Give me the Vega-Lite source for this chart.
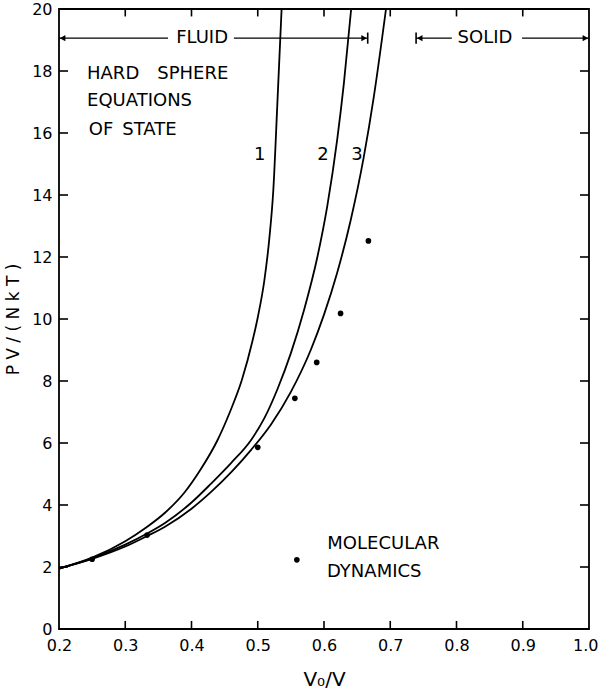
{
  "$schema": "https://vega.github.io/schema/vega-lite/v6.json",
  "autosize": {"type": "none"},
  "padding": {"left": 59, "top": 9, "right": 9, "bottom": 69},
  "width": 530,
  "height": 620,
  "background": "white",
  "config": {
    "view": {"stroke": "black", "strokeWidth": 1.8},
    "font": "DejaVu Sans",
    "axis": {
      "domain": false,
      "ticks": false,
      "grid": false,
      "labelColor": "black",
      "labelFont": "DejaVu Sans",
      "labelFontSize": 16,
      "labelFlush": false,
      "titleFont": "DejaVu Sans",
      "titleFontWeight": "normal",
      "titleColor": "black"
    }
  },
  "datasets": {
    "curves": [
      {"curve": "1", "x": 0.2, "y": 1.95}, {"curve": "1", "x": 0.25, "y": 2.3}, {"curve": "1", "x": 0.3, "y": 2.83},
      {"curve": "1", "x": 0.33, "y": 3.25}, {"curve": "1", "x": 0.36, "y": 3.75}, {"curve": "1", "x": 0.39, "y": 4.42},
      {"curve": "1", "x": 0.413, "y": 5.12}, {"curve": "1", "x": 0.439, "y": 6.08}, {"curve": "1", "x": 0.458, "y": 7.0},
      {"curve": "1", "x": 0.476, "y": 8.03}, {"curve": "1", "x": 0.4924, "y": 9.32}, {"curve": "1", "x": 0.5, "y": 10.05},
      {"curve": "1", "x": 0.51, "y": 11.25}, {"curve": "1", "x": 0.5175, "y": 12.6}, {"curve": "1", "x": 0.5235, "y": 14.16},
      {"curve": "1", "x": 0.5295, "y": 16.9}, {"curve": "1", "x": 0.536, "y": 20},
      {"curve": "2", "x": 0.2, "y": 1.95}, {"curve": "2", "x": 0.25, "y": 2.28}, {"curve": "2", "x": 0.3, "y": 2.72},
      {"curve": "2", "x": 0.333, "y": 3.08}, {"curve": "2", "x": 0.36, "y": 3.42}, {"curve": "2", "x": 0.4, "y": 4.08},
      {"curve": "2", "x": 0.43, "y": 4.7}, {"curve": "2", "x": 0.46, "y": 5.36}, {"curve": "2", "x": 0.49, "y": 6.1},
      {"curve": "2", "x": 0.51, "y": 6.8}, {"curve": "2", "x": 0.53, "y": 7.75}, {"curve": "2", "x": 0.55, "y": 8.9},
      {"curve": "2", "x": 0.57, "y": 10.3}, {"curve": "2", "x": 0.59, "y": 12.0}, {"curve": "2", "x": 0.605, "y": 13.65},
      {"curve": "2", "x": 0.62, "y": 15.8}, {"curve": "2", "x": 0.63, "y": 17.6}, {"curve": "2", "x": 0.641, "y": 20},
      {"curve": "3", "x": 0.2, "y": 1.95}, {"curve": "3", "x": 0.25, "y": 2.26}, {"curve": "3", "x": 0.3, "y": 2.66},
      {"curve": "3", "x": 0.333, "y": 3.0}, {"curve": "3", "x": 0.36, "y": 3.3}, {"curve": "3", "x": 0.4, "y": 3.88},
      {"curve": "3", "x": 0.43, "y": 4.43}, {"curve": "3", "x": 0.46, "y": 5.06}, {"curve": "3", "x": 0.49, "y": 5.78},
      {"curve": "3", "x": 0.52, "y": 6.6}, {"curve": "3", "x": 0.55, "y": 7.65}, {"curve": "3", "x": 0.58, "y": 9.0},
      {"curve": "3", "x": 0.6, "y": 10.14}, {"curve": "3", "x": 0.62, "y": 11.5}, {"curve": "3", "x": 0.64, "y": 13.16},
      {"curve": "3", "x": 0.66, "y": 15.22}, {"curve": "3", "x": 0.675, "y": 17.14}, {"curve": "3", "x": 0.6936, "y": 20}
    ],
    "md": [
      {"x": 0.25, "y": 2.25}, {"x": 0.333, "y": 3.03}, {"x": 0.5, "y": 5.86}, {"x": 0.556, "y": 7.44},
      {"x": 0.589, "y": 8.6}, {"x": 0.625, "y": 10.18}, {"x": 0.667, "y": 12.52}, {"x": 0.559, "y": 2.23}
    ],
    "ticks": [
      {"x": 0.3, "x2": 0.3, "y": 0, "y2": 0.26}, {"x": 0.4, "x2": 0.4, "y": 0, "y2": 0.26},
      {"x": 0.5, "x2": 0.5, "y": 0, "y2": 0.26}, {"x": 0.6, "x2": 0.6, "y": 0, "y2": 0.26},
      {"x": 0.7, "x2": 0.7, "y": 0, "y2": 0.26}, {"x": 0.8, "x2": 0.8, "y": 0, "y2": 0.26},
      {"x": 0.9, "x2": 0.9, "y": 0, "y2": 0.26},
      {"x": 0.3, "x2": 0.3, "y": 20, "y2": 19.76}, {"x": 0.4, "x2": 0.4, "y": 20, "y2": 19.76},
      {"x": 0.5, "x2": 0.5, "y": 20, "y2": 19.76}, {"x": 0.6, "x2": 0.6, "y": 20, "y2": 19.76},
      {"x": 0.7, "x2": 0.7, "y": 20, "y2": 19.76}, {"x": 0.8, "x2": 0.8, "y": 20, "y2": 19.76},
      {"x": 0.9, "x2": 0.9, "y": 20, "y2": 19.76},
      {"x": 0.2, "x2": 0.2136, "y": 2, "y2": 2}, {"x": 0.2, "x2": 0.2136, "y": 4, "y2": 4},
      {"x": 0.2, "x2": 0.2136, "y": 6, "y2": 6}, {"x": 0.2, "x2": 0.2136, "y": 8, "y2": 8},
      {"x": 0.2, "x2": 0.2136, "y": 10, "y2": 10}, {"x": 0.2, "x2": 0.2136, "y": 12, "y2": 12},
      {"x": 0.2, "x2": 0.2136, "y": 14, "y2": 14}, {"x": 0.2, "x2": 0.2136, "y": 16, "y2": 16},
      {"x": 0.2, "x2": 0.2136, "y": 18, "y2": 18},
      {"x": 1.0, "x2": 0.9864, "y": 2, "y2": 2}, {"x": 1.0, "x2": 0.9864, "y": 4, "y2": 4},
      {"x": 1.0, "x2": 0.9864, "y": 6, "y2": 6}, {"x": 1.0, "x2": 0.9864, "y": 8, "y2": 8},
      {"x": 1.0, "x2": 0.9864, "y": 10, "y2": 10}, {"x": 1.0, "x2": 0.9864, "y": 12, "y2": 12},
      {"x": 1.0, "x2": 0.9864, "y": 14, "y2": 14}, {"x": 1.0, "x2": 0.9864, "y": 16, "y2": 16},
      {"x": 1.0, "x2": 0.9864, "y": 18, "y2": 18}
    ],
    "labelsLeft": [
      {"x": 0.2423, "y": 17.9, "t": "HARD\u2003SPHERE"},
      {"x": 0.2423, "y": 17.03, "t": "EQUATIONS"},
      {"x": 0.245, "y": 16.1, "t": "OF\u2002STATE"},
      {"x": 0.605, "y": 2.74, "t": "MOLECULAR"},
      {"x": 0.6045, "y": 1.84, "t": "DYNAMICS"}
    ],
    "labelsCenter": [
      {"x": 0.503, "y": 15.29, "t": "1"},
      {"x": 0.5985, "y": 15.29, "t": "2"},
      {"x": 0.6498, "y": 15.29, "t": "3"},
      {"x": 0.416, "y": 19.06, "t": "FLUID"},
      {"x": 0.843, "y": 19.06, "t": "SOLID"}
    ],
    "arrows": [
      {"x": 0.2, "x2": 0.3645, "y": 19.06},
      {"x": 0.464, "x2": 0.666, "y": 19.06},
      {"x": 0.739, "x2": 0.793, "y": 19.06},
      {"x": 0.899, "x2": 1.0, "y": 19.06}
    ],
    "bars": [
      {"x": 0.666, "y": 18.88, "y2": 19.24},
      {"x": 0.739, "y": 18.88, "y2": 19.24}
    ],
    "headsLeft": [
      {"x": 0.2055, "y": 19.06},
      {"x": 0.7445, "y": 19.06}
    ],
    "headsRight": [
      {"x": 0.6605, "y": 19.06},
      {"x": 0.9945, "y": 19.06}
    ]
  },
  "layer": [
    {
      "data": {"name": "curves"},
      "mark": {"type": "line", "color": "black", "strokeWidth": 1.8, "interpolate": "monotone", "clip": true},
      "encoding": {
        "x": {
          "field": "x", "type": "quantitative",
          "scale": {"domain": [0.2, 1.0], "nice": false, "zero": false},
          "axis": {
            "orient": "bottom", "values": [0.2, 0.3, 0.4, 0.5, 0.6, 0.7, 0.8, 0.9, 1.0], "format": ".1f", "labelPadding": 8,
            "labelAlign": {"expr": "datum.value >= 1 ? 'right' : 'center'"},
            "labelOffset": {"expr": "datum.value >= 1 ? 9 : 0"},
            "title": "V₀/V", "titleFontSize": 20, "titlePadding": 16
          }
        },
        "y": {
          "field": "y", "type": "quantitative",
          "scale": {"domain": [0, 20], "nice": false},
          "axis": {"orient": "left", "values": [0, 2, 4, 6, 8, 10, 12, 14, 16, 18, 20], "labelPadding": 7, "title": "P V / ( N k T )", "titleFontSize": 17, "titlePadding": 9}
        },
        "detail": {"field": "curve"}
      }
    },
    {
      "data": {"name": "ticks"},
      "mark": {"type": "rule", "color": "black", "strokeWidth": 1.6},
      "encoding": {
        "x": {"field": "x", "type": "quantitative"},
        "x2": {"field": "x2"},
        "y": {"field": "y", "type": "quantitative"},
        "y2": {"field": "y2"}
      }
    },
    {
      "data": {"name": "md"},
      "mark": {"type": "point", "filled": true, "color": "black", "size": 32, "opacity": 1},
      "encoding": {
        "x": {"field": "x", "type": "quantitative"},
        "y": {"field": "y", "type": "quantitative"}
      }
    },
    {
      "data": {"name": "arrows"},
      "mark": {"type": "rule", "color": "black", "strokeWidth": 1.4},
      "encoding": {
        "x": {"field": "x", "type": "quantitative"},
        "x2": {"field": "x2"},
        "y": {"field": "y", "type": "quantitative"}
      }
    },
    {
      "data": {"name": "bars"},
      "mark": {"type": "rule", "color": "black", "strokeWidth": 1.6},
      "encoding": {
        "x": {"field": "x", "type": "quantitative"},
        "y": {"field": "y", "type": "quantitative"},
        "y2": {"field": "y2"}
      }
    },
    {
      "data": {"name": "headsLeft"},
      "mark": {"type": "point", "shape": "triangle-left", "filled": true, "color": "black", "size": 40, "opacity": 1},
      "encoding": {
        "x": {"field": "x", "type": "quantitative"},
        "y": {"field": "y", "type": "quantitative"}
      }
    },
    {
      "data": {"name": "headsRight"},
      "mark": {"type": "point", "shape": "triangle-right", "filled": true, "color": "black", "size": 40, "opacity": 1},
      "encoding": {
        "x": {"field": "x", "type": "quantitative"},
        "y": {"field": "y", "type": "quantitative"}
      }
    },
    {
      "data": {"name": "labelsLeft"},
      "mark": {"type": "text", "align": "left", "baseline": "middle", "fontSize": 18, "color": "black", "font": "DejaVu Sans"},
      "encoding": {
        "x": {"field": "x", "type": "quantitative"},
        "y": {"field": "y", "type": "quantitative"},
        "text": {"field": "t"}
      }
    },
    {
      "data": {"name": "labelsCenter"},
      "mark": {"type": "text", "align": "center", "baseline": "middle", "fontSize": 18, "color": "black", "font": "DejaVu Sans"},
      "encoding": {
        "x": {"field": "x", "type": "quantitative"},
        "y": {"field": "y", "type": "quantitative"},
        "text": {"field": "t"}
      }
    }
  ]
}
